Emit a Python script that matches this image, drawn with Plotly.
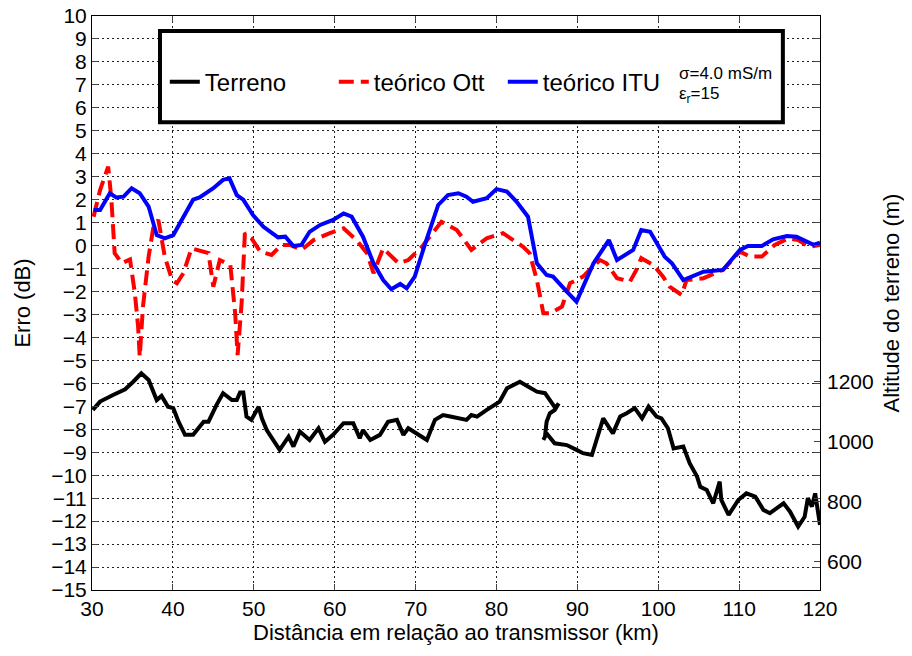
import plotly.graph_objects as go

# ---------------- data ----------------
itu_km = [30.2, 31.0, 32.2, 33.0, 33.9, 34.9, 35.9, 37.0, 38.0, 39.0, 40.05, 41.7, 42.5, 43.3, 45.0,
          46.2, 47.0, 47.9, 48.7, 49.9, 51.2, 53.0, 53.9, 54.9, 55.9, 56.9, 58.2, 59.8, 61.1, 62.1,
          63.5, 64.8, 66.0, 67.0, 68.1, 68.9, 69.9, 71.2, 72.8, 74.0, 75.3, 76.3, 77.1, 78.8, 80.0,
          81.3, 82.5, 83.9, 85.0, 86.2, 87.0, 88.7, 89.9, 92.0, 93.9, 94.9, 96.9, 97.9, 99.0, 100.8,
          101.7, 103.1, 105.6, 108.0, 110.1, 111.1, 112.8, 114.2, 115.9, 117.1, 119.2, 120.0]
itu_db = [1.55, 1.55, 2.28, 2.1, 2.13, 2.5, 2.28, 1.7, 0.46, 0.32, 0.46, 1.55, 2.0, 2.1, 2.5,
          2.86, 2.93, 2.2, 2.0, 1.33, 0.82, 0.36, 0.39, -0.02, 0.03, 0.6, 0.9, 1.12, 1.4, 1.26,
          0.39, -0.77, -1.5, -1.9, -1.67, -1.86, -1.35, 0.1, 1.77, 2.2, 2.28, 2.13, 1.91, 2.06, 2.46,
          2.35, 1.91, 1.26, -0.77, -1.28, -1.35, -2.0, -2.44, -0.77, 0.24, -0.63, -0.19, 0.68, 0.6, -0.48,
          -0.77, -1.5, -1.14, -1.06, -0.19, -0.02, -0.02, 0.27, 0.42, 0.39, 0.03, 0.13]

ott_km = [30.2, 31.0, 32.0, 32.4, 32.8, 33.7, 34.7, 35.3, 35.7, 35.9, 36.3, 37.0, 37.6, 38.2, 39.0,
          39.9, 40.5, 41.3, 42.3, 44.4, 45.0, 45.8, 47.1, 47.7, 48.0, 48.5, 48.9, 49.7, 50.8, 52.2,
          53.4, 54.5, 55.9, 57.4, 59.4, 61.1, 62.7, 64.0, 64.8, 66.0, 67.9, 69.1, 70.8, 73.2, 75.1,
          76.9, 78.8, 80.8, 83.3, 84.1, 85.0, 85.8, 86.6, 88.1, 89.1, 90.7, 91.3, 92.8, 93.6, 94.9,
          96.5, 97.3, 97.9, 99.4, 100.6, 101.4, 102.9, 103.5, 105.6, 108.0, 110.1, 111.3, 112.8, 114.4,
          116.1, 117.3, 118.7, 120.0]
ott_db = [1.26, 2.42, 3.44, 2.0, -0.33, -0.77, -0.6, -2.08, -3.53, -4.84, -2.66, -0.48, 0.82, 1.12, -0.48,
          -1.5, -1.64, -1.2, -0.12, -0.33, -1.79, -0.63, -0.85, -2.95, -4.77, -2.5, 0.54, 0.32, -0.26, -0.41,
          0.03, 0.03, -0.19, 0.24, 0.54, 0.75, 0.24, -0.33, -1.2, -0.12, -0.77, -0.63, -0.05, 1.04, 0.68,
          -0.19, 0.32, 0.54, -0.05, -0.33, -1.5, -2.95, -2.95, -2.66, -1.64, -1.35, -1.14, -0.63, -0.77, -1.42,
          -1.57, -1.06, -0.55, -0.85, -1.35, -1.79, -2.15, -1.5, -1.42, -1.06, -0.26, -0.48, -0.48, 0.03,
          0.32, 0.24, -0.05, 0.03]

terr_km = [30.1, 31.0, 32.6, 34.1, 35.1, 36.1, 37.0, 38.0, 38.6, 39.4, 40.05, 40.7, 41.5, 42.5, 43.8,
           44.4, 45.4, 46.2, 47.3, 47.9, 48.3, 48.7, 49.1, 49.7, 50.6, 51.0, 51.6, 53.2, 54.3, 54.9,
           55.7, 56.9, 58.0, 58.8, 59.8, 61.1, 62.3, 63.1, 63.5, 64.4, 65.6, 66.6, 67.7, 68.5, 69.1,
           71.4, 72.4, 73.4, 74.3, 76.3, 76.9, 77.6, 78.8, 79.8, 80.4, 81.3, 82.9, 83.9, 85.0, 86.0,
           86.8, 87.3, 87.7, 87.2, 86.6, 86.2, 86.0, 85.8, 86.2, 87.2, 88.7, 89.9, 90.7, 91.8, 92.4,
           93.2, 94.4, 95.3, 96.1, 97.1, 98.0, 98.8, 99.8, 100.4, 101.2, 101.9, 103.1, 103.9, 104.8,
           105.2, 106.0, 106.8, 107.6, 107.8, 108.7, 109.9, 110.9, 112.0, 113.0, 113.8, 115.5, 116.3,
           117.3, 118.1, 118.5, 119.0, 119.4, 119.8, 120.0]
terr_m = [1105, 1133, 1155, 1174, 1199, 1227, 1205, 1138, 1152, 1116, 1111, 1066, 1022, 1022, 1066,
          1066, 1122, 1161, 1138, 1138, 1163, 1163, 1083, 1072, 1116, 1077, 1038, 972, 1016, 983,
          1033, 1005, 1044, 999, 1022, 1061, 1061, 1011, 1038, 1005, 1022, 1066, 1072, 1022, 1044,
          1005, 1072, 1088, 1083, 1072, 1088, 1083, 1105, 1122, 1133, 1177, 1199, 1183, 1166, 1161,
          1133, 1111, 1127, 1105, 1094, 1066, 1016, 1005, 1027, 994, 988, 972, 961, 955, 1005,
          1077, 1027, 1083, 1094, 1111, 1077, 1116, 1083, 1077, 1044, 977, 983, 927, 883,
          849, 838, 794, 866, 805, 755, 805, 827, 816, 772, 761, 794, 766,
          716, 749, 811, 783, 827, 749, 722]

x_ticks = [30, 40, 50, 60, 70, 80, 90, 100, 110, 120]
y_ticks = list(range(-15, 11))
y2_ticks = [600, 800, 1000, 1200]

FONT = "Liberation Sans, Arial, sans-serif"

fig = go.Figure()
fig.add_trace(go.Scatter(x=terr_km, y=terr_m, mode="lines", name="Terreno", yaxis="y2",
                         line=dict(color="black", width=4)))
fig.add_trace(go.Scatter(x=ott_km, y=ott_db, mode="lines", name="teórico Ott",
                         line=dict(color="#ff0000", width=4, dash="15px,7px")))
fig.add_trace(go.Scatter(x=itu_km, y=itu_db, mode="lines", name="teórico ITU",
                         line=dict(color="#0000ff", width=4)))

fig.update_layout(
    width=904, height=648,
    margin=dict(l=84, r=92, t=8, b=66, autoexpand=False),
    paper_bgcolor="white", plot_bgcolor="white",
    font=dict(family=FONT, size=21, color="black"),
    showlegend=True,
    legend=dict(orientation="h", x=0.1, y=0.924, xanchor="left", yanchor="top",
                bgcolor="rgba(0,0,0,0)", borderwidth=0,
                entrywidth=124, entrywidthmode="pixels",
                font=dict(size=24, family=FONT), itemwidth=30, tracegroupgap=0),
    xaxis=dict(range=[30, 120], tickvals=x_ticks, ticks="inside", ticklen=6,
               showline=True, linecolor="black", linewidth=1, mirror="ticks",
               showgrid=True, gridcolor="#222", gridwidth=1, griddash="2px,3px",
               zeroline=False, tickfont=dict(size=21), automargin=False, ticklabeloverflow="allow",
               title=dict(text="Distância em relação ao transmissor (km)", font=dict(size=22), standoff=4)),
    yaxis=dict(range=[-15, 10], tickvals=y_ticks, ticks="inside", ticklen=6,
               showline=True, linecolor="black", linewidth=1, mirror="ticks",
               showgrid=True, gridcolor="#222", gridwidth=1, griddash="2px,3px",
               zeroline=False, tickfont=dict(size=21), automargin=False, ticklabeloverflow="allow",
               title=dict(text="Erro (dB)", font=dict(size=22), standoff=14)),
    yaxis2=dict(range=[505, 2418], tickvals=y2_ticks, overlaying="y", side="right",
                ticks="inside", ticklen=6, showgrid=False, zeroline=False, showline=False,
                tickfont=dict(size=21), automargin=False, ticklabeloverflow="allow",
                ticklabelstandoff=6,
                title=dict(text="Altitude do terreno (m)", font=dict(size=22), standoff=10)),
    shapes=[dict(type="rect", xref="paper", yref="paper", x0=0.0934, x1=0.949, y0=0.815, y1=0.974,
                 line=dict(color="black", width=4), fillcolor="white", layer="above")],
    annotations=[dict(xref="paper", yref="paper", x=0.803, y=0.9, xanchor="left", yanchor="middle",
                      text="σ=4.0 mS/m", showarrow=False, font=dict(size=17, family=FONT)),
                 dict(xref="paper", yref="paper", x=0.803, y=0.862, xanchor="left", yanchor="middle",
                      text="ε<sub>r</sub>=15", showarrow=False, font=dict(size=17, family=FONT))],
)

fig.write_html("out.html")
